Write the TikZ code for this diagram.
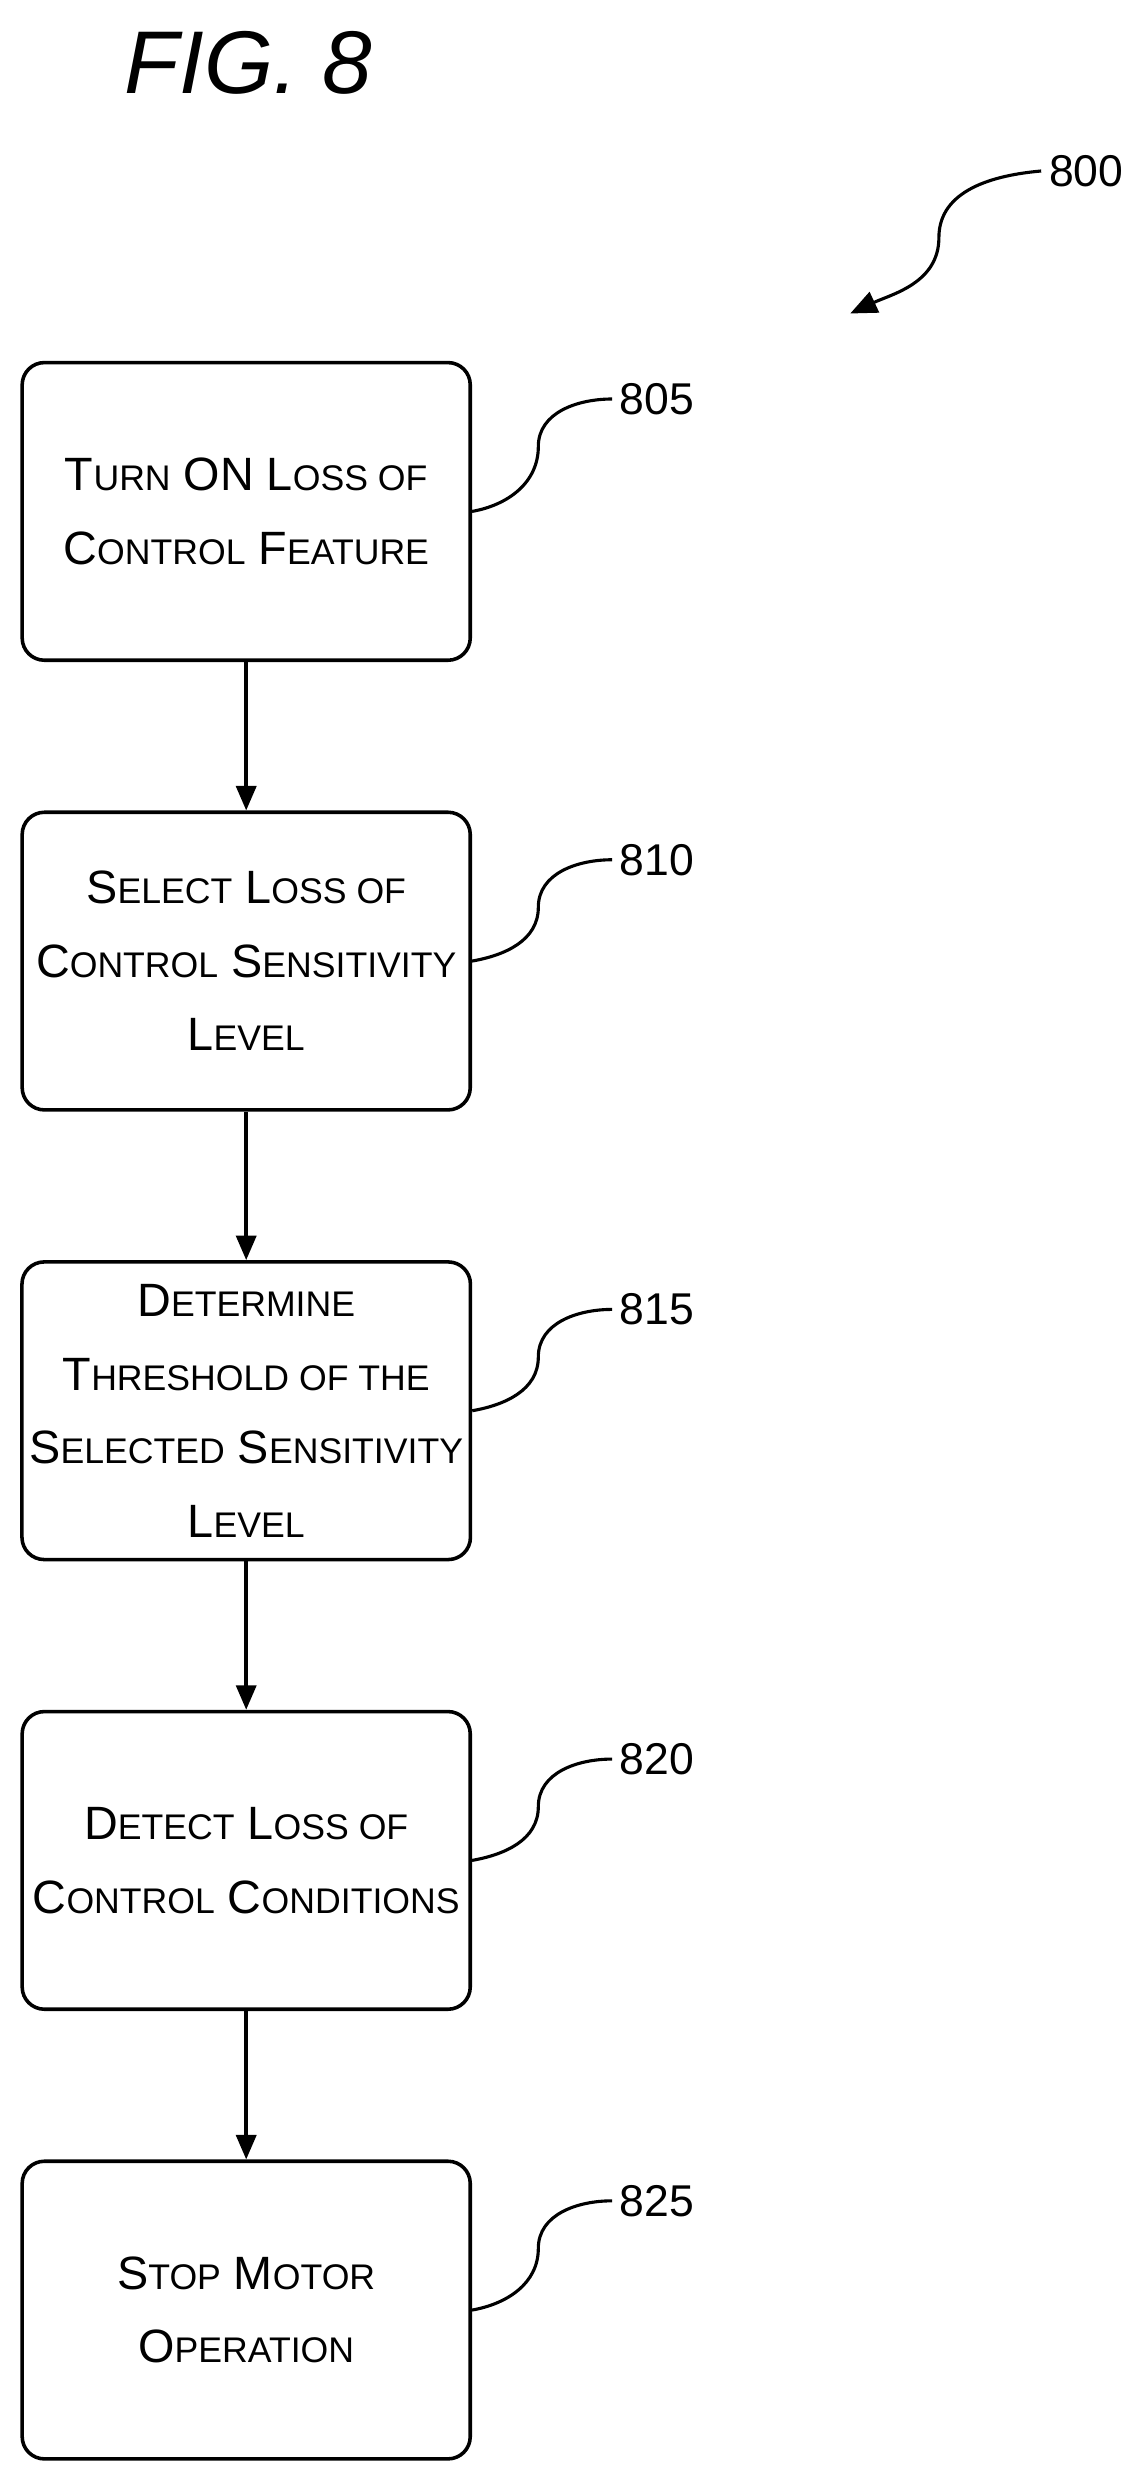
\documentclass[tikz,border=0pt]{standalone}
\usepackage{fontspec}
\setmainfont{Liberation Sans}
\usetikzlibrary{arrows.meta}
\newcommand\sm[1]{{\fontsize{16}{16}\selectfont #1}}
\tikzset{
  stepbox/.style={draw, line width=1.6pt, rounded corners=10pt, minimum width=283*0.025cm,
    minimum height=188*0.025cm, align=center, font=\fontsize{21}{33}\selectfont},
  ref/.style={font=\fontsize{20}{20}\selectfont},
  flow/.style={line width=1.6pt, -{Triangle[length=11pt,width=9pt]}},
  lead/.style={line width=1.4pt}
}
\begin{document}
\begin{tikzpicture}[x=0.025cm, y=-0.025cm]
\useasboundingbox (0,0) rectangle (720,1569.5);

\node[font=\fontsize{40}{40}\selectfont\itshape] (fig) at (157,40) {FIG. 8};
\node[ref] (l800) at (686,108) {800};
\draw[lead, -{Triangle[length=12pt,width=10pt]}] (l800.west) to[out=185,in=90] (593,150)
  to[out=-90,in=25] (537,198);

\node[stepbox] (s805) at (155.5,323) {T\sm{URN} ON L\sm{OSS OF}\\C\sm{ONTROL} F\sm{EATURE}};
\node[stepbox] (s810) at (155.5,607) {S\sm{ELECT} L\sm{OSS OF}\\C\sm{ONTROL} S\sm{ENSITIVITY}\\L\sm{EVEL}};
\node[stepbox] (s815) at (155.5,891) {D\sm{ETERMINE}\\T\sm{HRESHOLD OF THE}\\S\sm{ELECTED} S\sm{ENSITIVITY}\\L\sm{EVEL}};
\node[stepbox] (s820) at (155.5,1175) {D\sm{ETECT} L\sm{OSS OF}\\C\sm{ONTROL} C\sm{ONDITIONS}};
\node[stepbox] (s825) at (155.5,1459) {S\sm{TOP} M\sm{OTOR}\\O\sm{PERATION}};

\draw[flow] (s805) -- (s810);
\draw[flow] (s810) -- (s815);
\draw[flow] (s815) -- (s820);
\draw[flow] (s820) -- (s825);

\foreach \n/\y in {805/252,810/543,815/827,820/1111,825/1390}{
  \node[ref] (l\n) at (415,\y) {\n};
  \draw[lead] (s\n.east) to[out=10,in=-90] (340,\y+30) to[out=90,in=180] (l\n.west);
}
\end{tikzpicture}
\end{document}
